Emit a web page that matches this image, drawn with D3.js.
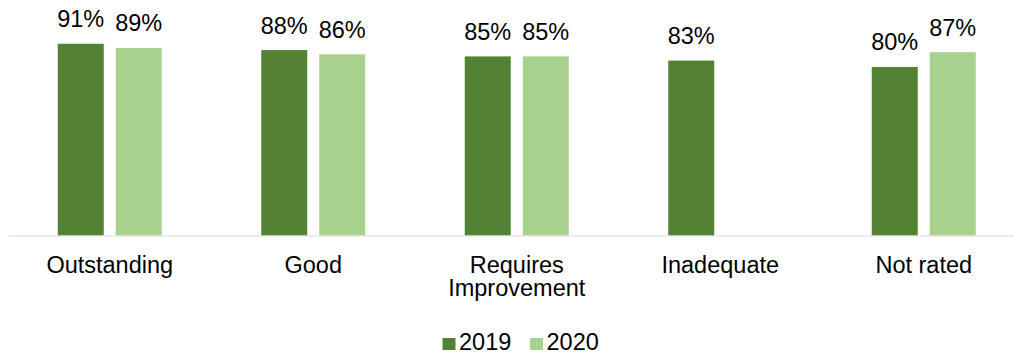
<!DOCTYPE html>
<html>
<head>
<meta charset="utf-8">
<script src="https://cdn.jsdelivr.net/npm/d3@7"></script>
<style>
  html, body { margin: 0; padding: 0; background: #fff; }
  svg { display: block; font-family: "Liberation Sans", Arial, sans-serif; }
</style>
</head>
<body>
<svg id="chart" width="1014" height="358"></svg>
<script>
// Share of providers by inspection rating, two survey years
const categories = ["Outstanding", "Good", "Requires Improvement", "Inadequate", "Not rated"];
const seriesNames = ["2019", "2020"];
const values2019 = [91, 88, 85, 83, 80];
const values2020 = [89, 86, 85, null, 87];
const colors = ["#548235", "#A9D18E"];

const svg = d3.select("#chart");
const fontSize = 23.5;

const x = d3.scaleBand().domain(categories).range([8, 1025.5]).paddingInner(0).paddingOuter(0);
const sub = d3.scaleBand().domain(seriesNames).range([0, 104]).paddingInner(12 / 58).paddingOuter(0);
const y = d3.scaleLinear().domain([0, 100]).range([235.5, 24.8]);

const groupOffset = (x.bandwidth() - 104) / 2;

const seriesData = [values2019, values2020];

// Bars with value labels
const groups = svg.append("g").selectAll("g")
  .data(categories)
  .join("g")
  .attr("transform", d => `translate(${x(d) + groupOffset},0)`);

seriesNames.forEach((s, si) => {
  groups.each(function(cat, ci) {
    const v = seriesData[si][ci];
    if (v == null) return;
    const g = d3.select(this);
    g.append("rect")
      .attr("x", sub(s))
      .attr("y", y(v))
      .attr("width", sub.bandwidth())
      .attr("height", y(0) - y(v))
      .attr("fill", colors[si]);
    g.append("text")
      .attr("x", sub(s) + sub.bandwidth() / 2)
      .attr("y", y(v) - 16.5)
      .attr("text-anchor", "middle")
      .attr("font-size", fontSize)
      .attr("fill", "#000")
      .text(v + "%");
  });
});

// Category axis
const axis = svg.append("g")
  .attr("transform", `translate(0,${y(0)})`)
  .call(d3.axisBottom(x).tickSize(0).tickPadding(0));
axis.select(".domain").attr("stroke", "#d9d9d9").attr("stroke-width", 1.2);
axis.selectAll(".tick text").remove();

axis.selectAll(".tick").each(function(d) {
  const words = d === "Requires Improvement" ? ["Requires", "Improvement"] : [d];
  const t = d3.select(this).append("text")
    .attr("text-anchor", "middle")
    .attr("font-size", fontSize)
    .attr("fill", "#000");
  words.forEach((w, i) => {
    t.append("tspan").attr("x", 0).attr("y", 37.5 + i * 23).text(w);
  });
});

// Legend
const legendItems = [{ name: "2019", sq: 442.5 }, { name: "2020", sq: 530 }];
const legend = svg.append("g");
legendItems.forEach((it, i) => {
  legend.append("rect")
    .attr("x", it.sq).attr("y", 338)
    .attr("width", 13).attr("height", 12)
    .attr("fill", colors[i]);
  legend.append("text")
    .attr("x", it.sq + 16.5).attr("y", 349.5)
    .attr("font-size", fontSize)
    .attr("fill", "#000")
    .text(it.name);
});
</script>
</body>
</html>
